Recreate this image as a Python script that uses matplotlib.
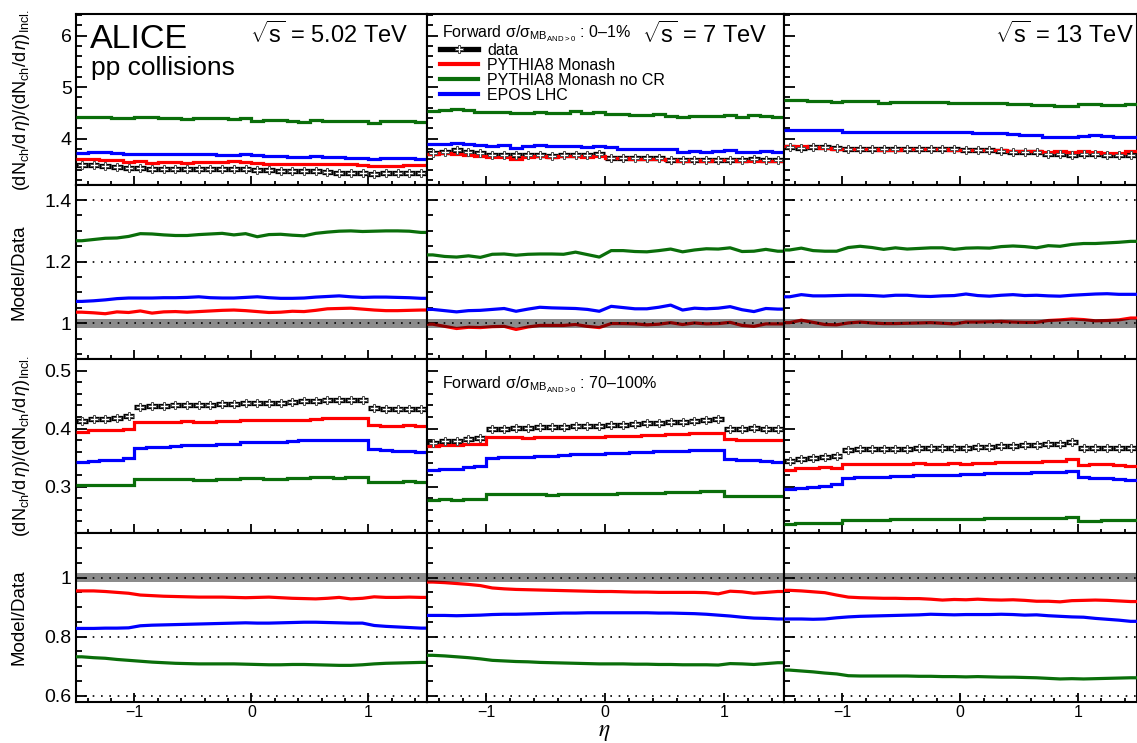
import numpy as np
import matplotlib
matplotlib.use('Agg')
import matplotlib.pyplot as plt
from matplotlib.lines import Line2D
from matplotlib.ticker import MultipleLocator, FuncFormatter

plt.rcParams['font.family'] = ['Liberation Sans', 'DejaVu Sans']
plt.rcParams['mathtext.fontset'] = 'custom'
plt.rcParams['mathtext.rm'] = 'Liberation Sans'
plt.rcParams['mathtext.it'] = 'Liberation Sans:italic'
plt.rcParams['mathtext.bf'] = 'Liberation Sans:bold'
plt.rcParams['mathtext.sf'] = 'Liberation Sans'

# ---------------- data ----------------
energies = ['5.02', '7', '13']
eta_edges = np.round(np.linspace(-1.5, 1.5, 31), 3)
model_names = ['PYTHIA8 Monash', 'PYTHIA8 Monash no CR', 'EPOS LHC']
model_colors = ['#ff0000', '#0a6e0a', '#0000ff']
class_labels = ['0\u20131%', '70\u2013100%']

# dN/deta / (dN/deta)_incl, high multiplicity class (0-1%)
data_high_502 = [3.48, 3.48, 3.47, 3.45, 3.43, 3.43, 3.42, 3.42, 3.42, 3.41, 3.41, 3.41, 3.41, 3.41, 3.41,
                 3.39, 3.39, 3.38, 3.37, 3.37, 3.37, 3.35, 3.34, 3.34, 3.34, 3.32, 3.34, 3.34, 3.34, 3.34]
data_high_7 = [3.72, 3.75, 3.77, 3.74, 3.72, 3.69, 3.69, 3.68, 3.68, 3.68, 3.67, 3.68, 3.68, 3.68, 3.71,
               3.63, 3.62, 3.62, 3.62, 3.62, 3.58, 3.58, 3.58, 3.58, 3.58, 3.58, 3.59, 3.61, 3.58, 3.58]
data_high_13 = [3.84, 3.82, 3.83, 3.83, 3.82, 3.79, 3.79, 3.79, 3.79, 3.79, 3.79, 3.79, 3.79, 3.79, 3.79,
                3.77, 3.77, 3.77, 3.76, 3.74, 3.74, 3.74, 3.71, 3.71, 3.69, 3.71, 3.71, 3.69, 3.69, 3.69]

# low multiplicity class (70-100%)
data_low_502 = [0.413, 0.416, 0.417, 0.418, 0.421, 0.437, 0.439, 0.439, 0.440, 0.441, 0.441, 0.441, 0.442, 0.442, 0.445,
                0.445, 0.445, 0.445, 0.446, 0.447, 0.448, 0.449, 0.449, 0.450, 0.450, 0.435, 0.434, 0.434, 0.434, 0.433]
data_low_7 = [0.376, 0.378, 0.379, 0.382, 0.384, 0.400, 0.400, 0.401, 0.401, 0.402, 0.402, 0.403, 0.404, 0.405, 0.405,
              0.406, 0.407, 0.408, 0.409, 0.410, 0.411, 0.412, 0.413, 0.414, 0.416, 0.400, 0.400, 0.401, 0.400, 0.399]
data_low_13 = [0.344, 0.347, 0.349, 0.351, 0.352, 0.363, 0.364, 0.364, 0.364, 0.365, 0.365, 0.366, 0.366, 0.366, 0.367,
               0.367, 0.368, 0.369, 0.370, 0.370, 0.371, 0.372, 0.374, 0.374, 0.377, 0.366, 0.366, 0.367, 0.366, 0.366]

# Model/Data ratios, high multiplicity class
ratio_high_502_monash = [1.036, 1.034, 1.031, 1.037, 1.035, 1.040, 1.033, 1.037, 1.038, 1.036, 1.038, 1.040, 1.042, 1.043, 1.041,
                         1.038, 1.035, 1.036, 1.039, 1.038, 1.042, 1.047, 1.048, 1.049, 1.046, 1.043, 1.041, 1.041, 1.042, 1.043]
ratio_high_502_nocr = [1.268, 1.272, 1.276, 1.277, 1.282, 1.291, 1.290, 1.287, 1.285, 1.285, 1.288, 1.290, 1.292, 1.287, 1.291,
                       1.281, 1.288, 1.289, 1.286, 1.284, 1.292, 1.296, 1.299, 1.300, 1.298, 1.299, 1.300, 1.300, 1.299, 1.295]
ratio_high_502_epos = [1.071, 1.073, 1.076, 1.080, 1.082, 1.082, 1.082, 1.083, 1.083, 1.084, 1.086, 1.083, 1.082, 1.082, 1.084,
                       1.086, 1.083, 1.081, 1.081, 1.082, 1.085, 1.087, 1.089, 1.086, 1.084, 1.085, 1.085, 1.084, 1.083, 1.081]

ratio_high_7_monash = [0.997, 0.990, 0.983, 0.987, 0.986, 0.989, 0.990, 0.980, 0.988, 0.993, 0.993, 0.993, 0.996, 0.990, 0.986,
                       0.999, 0.999, 0.998, 0.995, 0.997, 1.002, 0.996, 1.001, 0.998, 0.999, 1.003, 0.993, 0.990, 0.998, 0.998]
ratio_high_7_nocr = [1.222, 1.217, 1.215, 1.219, 1.214, 1.224, 1.225, 1.221, 1.224, 1.225, 1.225, 1.224, 1.231, 1.223, 1.215,
                     1.236, 1.236, 1.233, 1.232, 1.236, 1.241, 1.232, 1.238, 1.242, 1.241, 1.245, 1.233, 1.234, 1.240, 1.234]
ratio_high_7_epos = [1.045, 1.041, 1.037, 1.041, 1.042, 1.045, 1.048, 1.039, 1.046, 1.052, 1.050, 1.049, 1.048, 1.045, 1.039,
                     1.055, 1.051, 1.047, 1.047, 1.052, 1.059, 1.043, 1.049, 1.047, 1.049, 1.054, 1.044, 1.038, 1.048, 1.046]

ratio_high_13_monash = [1.002, 1.010, 1.003, 0.996, 0.995, 1.001, 1.004, 1.001, 0.999, 0.999, 1.000, 1.001, 1.002, 1.000, 0.998,
                        1.004, 1.004, 1.005, 1.006, 1.004, 1.003, 1.003, 1.009, 1.011, 1.014, 1.012, 1.008, 1.009, 1.011, 1.017]
ratio_high_13_nocr = [1.238, 1.244, 1.236, 1.234, 1.234, 1.246, 1.250, 1.246, 1.240, 1.245, 1.241, 1.243, 1.245, 1.245, 1.240,
                      1.244, 1.245, 1.244, 1.249, 1.251, 1.249, 1.245, 1.252, 1.250, 1.256, 1.259, 1.259, 1.261, 1.263, 1.266]
ratio_high_13_epos = [1.086, 1.093, 1.089, 1.089, 1.090, 1.091, 1.091, 1.090, 1.088, 1.091, 1.091, 1.088, 1.087, 1.089, 1.090,
                      1.095, 1.090, 1.088, 1.091, 1.093, 1.090, 1.091, 1.089, 1.088, 1.091, 1.093, 1.095, 1.096, 1.094, 1.094]

# Model/Data ratios, low multiplicity class
ratio_low_502_monash = [0.955, 0.955, 0.953, 0.950, 0.947, 0.941, 0.939, 0.937, 0.936, 0.935, 0.934, 0.934, 0.934, 0.933, 0.932,
                        0.933, 0.934, 0.932, 0.930, 0.929, 0.928, 0.930, 0.933, 0.928, 0.930, 0.935, 0.933, 0.933, 0.934, 0.933]
ratio_low_502_nocr = [0.732, 0.729, 0.727, 0.723, 0.720, 0.717, 0.714, 0.712, 0.710, 0.709, 0.708, 0.708, 0.708, 0.708, 0.707,
                      0.706, 0.705, 0.705, 0.706, 0.706, 0.705, 0.704, 0.703, 0.703, 0.705, 0.708, 0.710, 0.711, 0.712, 0.713]
ratio_low_502_epos = [0.828, 0.828, 0.829, 0.829, 0.830, 0.837, 0.839, 0.840, 0.841, 0.842, 0.843, 0.844, 0.845, 0.846, 0.847,
                      0.846, 0.846, 0.847, 0.848, 0.849, 0.849, 0.848, 0.847, 0.846, 0.846, 0.838, 0.835, 0.833, 0.831, 0.829]

ratio_low_7_monash = [0.985, 0.983, 0.980, 0.977, 0.973, 0.965, 0.962, 0.960, 0.959, 0.958, 0.957, 0.956, 0.955, 0.954, 0.953,
                      0.953, 0.952, 0.951, 0.951, 0.950, 0.950, 0.950, 0.950, 0.949, 0.945, 0.954, 0.952, 0.947, 0.950, 0.953]
ratio_low_7_nocr = [0.737, 0.735, 0.732, 0.729, 0.725, 0.720, 0.718, 0.716, 0.715, 0.713, 0.712, 0.711, 0.710, 0.709, 0.708,
                    0.708, 0.708, 0.707, 0.707, 0.706, 0.706, 0.705, 0.705, 0.705, 0.704, 0.709, 0.708, 0.706, 0.709, 0.712]
ratio_low_7_epos = [0.872, 0.872, 0.871, 0.872, 0.873, 0.875, 0.876, 0.876, 0.877, 0.878, 0.879, 0.880, 0.880, 0.881, 0.881,
                    0.881, 0.881, 0.881, 0.881, 0.880, 0.880, 0.879, 0.878, 0.876, 0.873, 0.870, 0.866, 0.863, 0.862, 0.860]

ratio_low_13_monash = [0.957, 0.955, 0.952, 0.949, 0.941, 0.934, 0.932, 0.931, 0.930, 0.930, 0.929, 0.929, 0.927, 0.924, 0.926,
                       0.925, 0.927, 0.925, 0.924, 0.925, 0.923, 0.920, 0.920, 0.918, 0.922, 0.923, 0.924, 0.923, 0.921, 0.919]
ratio_low_13_nocr = [0.687, 0.684, 0.681, 0.677, 0.674, 0.668, 0.667, 0.667, 0.667, 0.667, 0.667, 0.666, 0.666, 0.665, 0.665,
                     0.664, 0.665, 0.664, 0.663, 0.663, 0.662, 0.661, 0.659, 0.657, 0.658, 0.657, 0.658, 0.659, 0.660, 0.661]
ratio_low_13_epos = [0.860, 0.860, 0.859, 0.860, 0.864, 0.867, 0.869, 0.870, 0.871, 0.872, 0.873, 0.874, 0.876, 0.875, 0.874,
                     0.875, 0.875, 0.875, 0.876, 0.875, 0.873, 0.874, 0.871, 0.869, 0.867, 0.866, 0.862, 0.859, 0.856, 0.852]

# relative data uncertainty (grey band half-width in the ratio panels)
band_halfwidth = [0.014, 0.015]

data_sets = [[data_high_502, data_high_7, data_high_13],
             [data_low_502, data_low_7, data_low_13]]
ratio_sets = [
    [[ratio_high_502_monash, ratio_high_502_nocr, ratio_high_502_epos],
     [ratio_high_7_monash, ratio_high_7_nocr, ratio_high_7_epos],
     [ratio_high_13_monash, ratio_high_13_nocr, ratio_high_13_epos]],
    [[ratio_low_502_monash, ratio_low_502_nocr, ratio_low_502_epos],
     [ratio_low_7_monash, ratio_low_7_nocr, ratio_low_7_epos],
     [ratio_low_13_monash, ratio_low_13_nocr, ratio_low_13_epos]],
]

# ---------------- layout ----------------
W, H = 1137, 743
def fx(x):
    return x / W
def fy(y):
    return 1 - y / H

fig = plt.figure(figsize=(W / 100, H / 100), dpi=100)
gs = fig.add_gridspec(4, 3, left=fx(76), right=fx(1136.5), top=fy(14), bottom=fy(702),
                      hspace=0, wspace=0, width_ratios=[351, 357, 353],
                      height_ratios=[171, 174, 174, 169])

ylims = [(3.1, 6.42), (0.884, 1.449), (0.22, 0.52), (0.579, 1.151)]
ymajor = [1, 0.2, 0.1, 0.2]
yminor = [0.2, 0.05, 0.02, 0.05]
ratio_guides = [[1.0, 1.2, 1.4], [0.6, 0.8, 1.0]]

def fmt(v, pos):
    s = '%g' % round(v, 4)
    return s.replace('-', '\u2212')

edges = eta_edges
centers = 0.5 * (edges[:-1] + edges[1:])
line_x = np.concatenate([[edges[0]], centers, [edges[-1]]])

axes = [[fig.add_subplot(gs[r, c]) for c in range(3)] for r in range(4)]

for r in range(4):
    for c in range(3):
        ax = axes[r][c]
        ax.set_xlim(-1.5, 1.5)
        ax.set_ylim(*ylims[r])
        ax.xaxis.set_major_locator(MultipleLocator(1))
        ax.xaxis.set_minor_locator(MultipleLocator(0.2))
        ax.yaxis.set_major_locator(MultipleLocator(ymajor[r]))
        ax.yaxis.set_minor_locator(MultipleLocator(yminor[r]))
        ax.xaxis.set_major_formatter(FuncFormatter(fmt))
        ax.yaxis.set_major_formatter(FuncFormatter(fmt))
        ax.tick_params(axis='both', which='both', direction='in', top=False, right=False,
                       width=1.3, colors='black')
        ax.tick_params(axis='y', which='major', length=8, labelsize=14, pad=3)
        ax.tick_params(axis='y', which='minor', length=4)
        ax.tick_params(axis='x', which='major', length=6.5, labelsize=11.5, pad=2.5)
        ax.tick_params(axis='x', which='minor', length=2.8)
        ax.tick_params(labelleft=(c == 0), labelbottom=(r == 3))
        for sp in ax.spines.values():
            sp.set_linewidth(1.5)

        cls = r // 2
        dat = np.array(data_sets[cls][c])
        ratios = ratio_sets[cls][c]
        if r % 2 == 0:
            # spectra panel
            ax.hlines(dat, edges[:-1], edges[1:], color='black', lw=3.8, zorder=2)
            for m in (1, 2, 0):
                model = dat * np.array(ratios[m])
                ax.stairs(model, edges, color=model_colors[m], lw=2.3, zorder=3, baseline=None)
            ax.plot(centers, dat, ls='none', marker='P', ms=5.8, mfc='white', mec='0.3',
                    mew=0.7, zorder=4)
        else:
            for m in (1, 2, 0):
                rv = np.array(ratios[m])
                ly = np.concatenate([[rv[0]], rv, [rv[-1]]])
                ax.plot(line_x, ly, color=model_colors[m], lw=2.3, zorder=3,
                        solid_joinstyle='round')
            hw = band_halfwidth[cls]
            ax.bar(centers, 2 * hw, bottom=1 - hw, width=0.1, color='black', alpha=0.45,
                   lw=0, zorder=5)
            for g in ratio_guides[cls]:
                ax.axhline(g, color='black', lw=1.2, ls=(0, (1, 4)), zorder=6)

# ---------------- texts ----------------
ylab_top = r'$(\mathrm{dN}_{\mathrm{ch}}/\mathrm{d}\,\eta)/(\mathrm{dN}_{\mathrm{ch}}/\mathrm{d}\,\eta)_{\mathrm{Incl.}}$'
fig.text(fx(22), fy(100), ylab_top, rotation=90, ha='center', va='center', fontsize=13)
fig.text(fx(22), fy(446), ylab_top, rotation=90, ha='center', va='center', fontsize=13)
fig.text(fx(19), fy(272), 'Model/Data', rotation=90, ha='center', va='center', fontsize=13.5)
fig.text(fx(19), fy(617), 'Model/Data', rotation=90, ha='center', va='center', fontsize=13.5)

fig.text(fx(604), fy(743), r'$\eta$', ha='center', va='bottom', fontsize=17, math_fontfamily='stix')

fig.text(fx(90), fy(48), 'ALICE', ha='left', va='baseline', fontsize=24.5)
fig.text(fx(91), fy(75), 'pp collisions', ha='left', va='baseline', fontsize=19)

sqrt_right = [408, 768, 1134]
for c in range(3):
    fig.text(fx(sqrt_right[c]), fy(43), r'$\sqrt{\mathrm{s}}$ = ' + energies[c] + ' TeV',
             ha='right', va='baseline', fontsize=17)

sig = 'Forward \u03c3/\u03c3$_{\\mathrm{MB}_{\\mathrm{AND>0}}}$ : '
fig.text(fx(442), fy(37), sig + class_labels[0], ha='left', va='baseline', fontsize=11.5)
fig.text(fx(442), fy(388), sig + class_labels[1], ha='left', va='baseline', fontsize=11.5)

handles = [Line2D([], [], color='black', lw=3.8, marker='P', ms=5.8, mfc='white', mec='0.3', mew=0.7)]
for m in range(3):
    handles.append(Line2D([], [], color=model_colors[m], lw=3))
labels = ['data'] + model_names
leg = axes[0][1].legend(handles, labels, loc='upper left', bbox_to_anchor=(fx(440), fy(43)),
                        bbox_transform=fig.transFigure, frameon=False, fontsize=11.5,
                        handlelength=2.4, handletextpad=0.55, labelspacing=0.0,
                        borderpad=0, borderaxespad=0)

fig.savefig('out.png', dpi=100)
